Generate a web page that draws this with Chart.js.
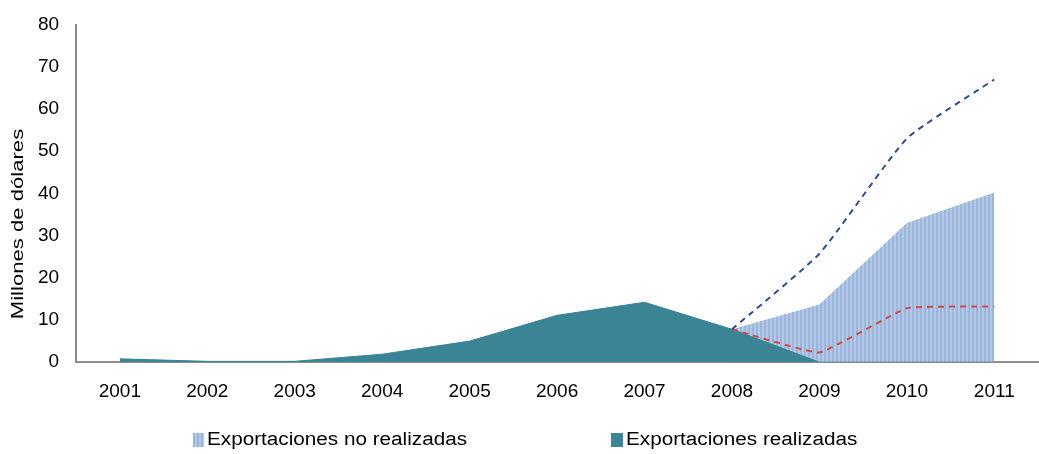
<!DOCTYPE html>
<html>
<head>
<meta charset="utf-8">
<script src="https://cdn.jsdelivr.net/npm/chart.js@4/dist/chart.umd.min.js"></script>
<style>
  body { margin: 0; background: #fff; }
  #wrap { position: relative; width: 1039px; height: 454px; }
  #legend { position: absolute; top: 429px; left: 0; width: 1039px; font-family: "Liberation Sans", Arial, sans-serif; font-size: 18px; color: #000; }
  .item { position: absolute; top: 0; display: flex; align-items: center; }
  .txt { display: inline-block; transform: scaleX(1.15); transform-origin: left center; }
  .box { width: 11px; height: 14px; margin-right: 3px; }
</style>
</head>
<body>
<div id="wrap">
  <canvas id="myChart" width="1039" height="454"></canvas>
  <div id="legend">
    <div class="item" style="left:193px"><span class="box" id="hatchBox"></span><span class="txt">Exportaciones no realizadas</span></div>
    <div class="item" style="left:611px"><span class="box" style="width:12px;background:#3A8496"></span><span class="txt">Exportaciones realizadas</span></div>
  </div>
</div>
<script>
var years = ["2001","2002","2003","2004","2005","2006","2007","2008","2009","2010","2011"];
var realizadas = [0.8, 0.2, 0.2, 1.9, 5.0, 11.1, 14.2, 7.8, 0, 0, 0];
var noRealizadas = [null, null, null, null, null, null, null, 7.8, 13.7, 33, 40.2];
var escenarioAlto = [null, null, null, null, null, null, null, 7.8, 25.7, 53, 67];
var escenarioBajo = [null, null, null, null, null, null, null, 7.8, 2.3, 12.8, 13.2];
var yTitle = "Millones de dólares";

// vertical hatch used for the "no realizadas" area
var pc = document.createElement("canvas");
pc.width = 4; pc.height = 4;
var px = pc.getContext("2d");
px.fillStyle = "#B3C8E6";
px.fillRect(0, 0, 4, 4);
px.fillStyle = "#9BB5DB";
px.fillRect(0, 0, 2, 4);

document.getElementById("hatchBox").style.background =
  "repeating-linear-gradient(90deg, #9BB5DB 0 2px, #B3C8E6 2px 4px)";

var ctx = document.getElementById("myChart");
var hatch = ctx.getContext("2d").createPattern(pc, "repeat");

// y title is stretched in the original, so draw it by hand
var titlePlugin = {
  id: 'ytitle',
  afterDraw: function(chart) {
    var c = chart.ctx;
    c.save();
    c.translate(18, 224);
    c.rotate(-Math.PI / 2);
    c.scale(1.3, 1);
    c.font = "17px 'Liberation Sans'";
    c.fillStyle = "#000";
    c.textAlign = "center";
    c.textBaseline = "middle";
    c.fillText(yTitle, 0, 0);
    c.restore();
  }
};

var chart = new Chart(ctx, {
  type: 'line',
  data: {
    labels: years,
    datasets: [{
      label: 'alto',
      data: escenarioAlto,
      borderColor: "#2C4F8A",
      borderWidth: 2,
      borderDash: [6, 5],
      pointRadius: 0,
      tension: 0.15,
      fill: false,
      order: 1
    },
    {
      label: 'bajo',
      data: escenarioBajo,
      borderColor: "#D14A48",
      borderWidth: 2,
      borderDash: [6, 5],
      pointRadius: 0,
      tension: 0.1,
      fill: false,
      order: 2
    },
    {
      label: 'Exportaciones realizadas',
      data: realizadas,
      borderColor: "#3A8496",
      backgroundColor: "#3A8496",
      borderWidth: 1,
      pointRadius: 0,
      tension: 0,
      fill: 'origin',
      order: 3
    },
    {
      label: 'Exportaciones no realizadas',
      data: noRealizadas,
      borderColor: "rgba(0,0,0,0)",
      backgroundColor: hatch,
      borderWidth: 0,
      pointRadius: 0,
      tension: 0,
      fill: 'origin',
      order: 4
    }]
  },
  options: {
    responsive: false,
    animation: false,
    layout: { padding: { top: 0, right: 1, left: 21, bottom: 33 } },
    plugins: { legend: { display: false }, tooltip: { enabled: false } },
    scales: {
      x: {
        offset: true,
        grid: { display: false, drawTicks: false },
        border: { color: "#8C8C8C", width: 2 },
        ticks: { color: "#000", padding: 18, font: { family: "Liberation Sans", size: 19 } }
      },
      y: {
        min: 0, max: 80,
        grid: { display: false, drawTicks: false },
        border: { color: "#8C8C8C", width: 2 },
        ticks: { stepSize: 10, color: "#000", padding: 17, font: { family: "Liberation Sans", size: 19, lineHeight: 0.8 } }
      }
    }
  },
  plugins: [titlePlugin]
});
</script>
</body>
</html>
